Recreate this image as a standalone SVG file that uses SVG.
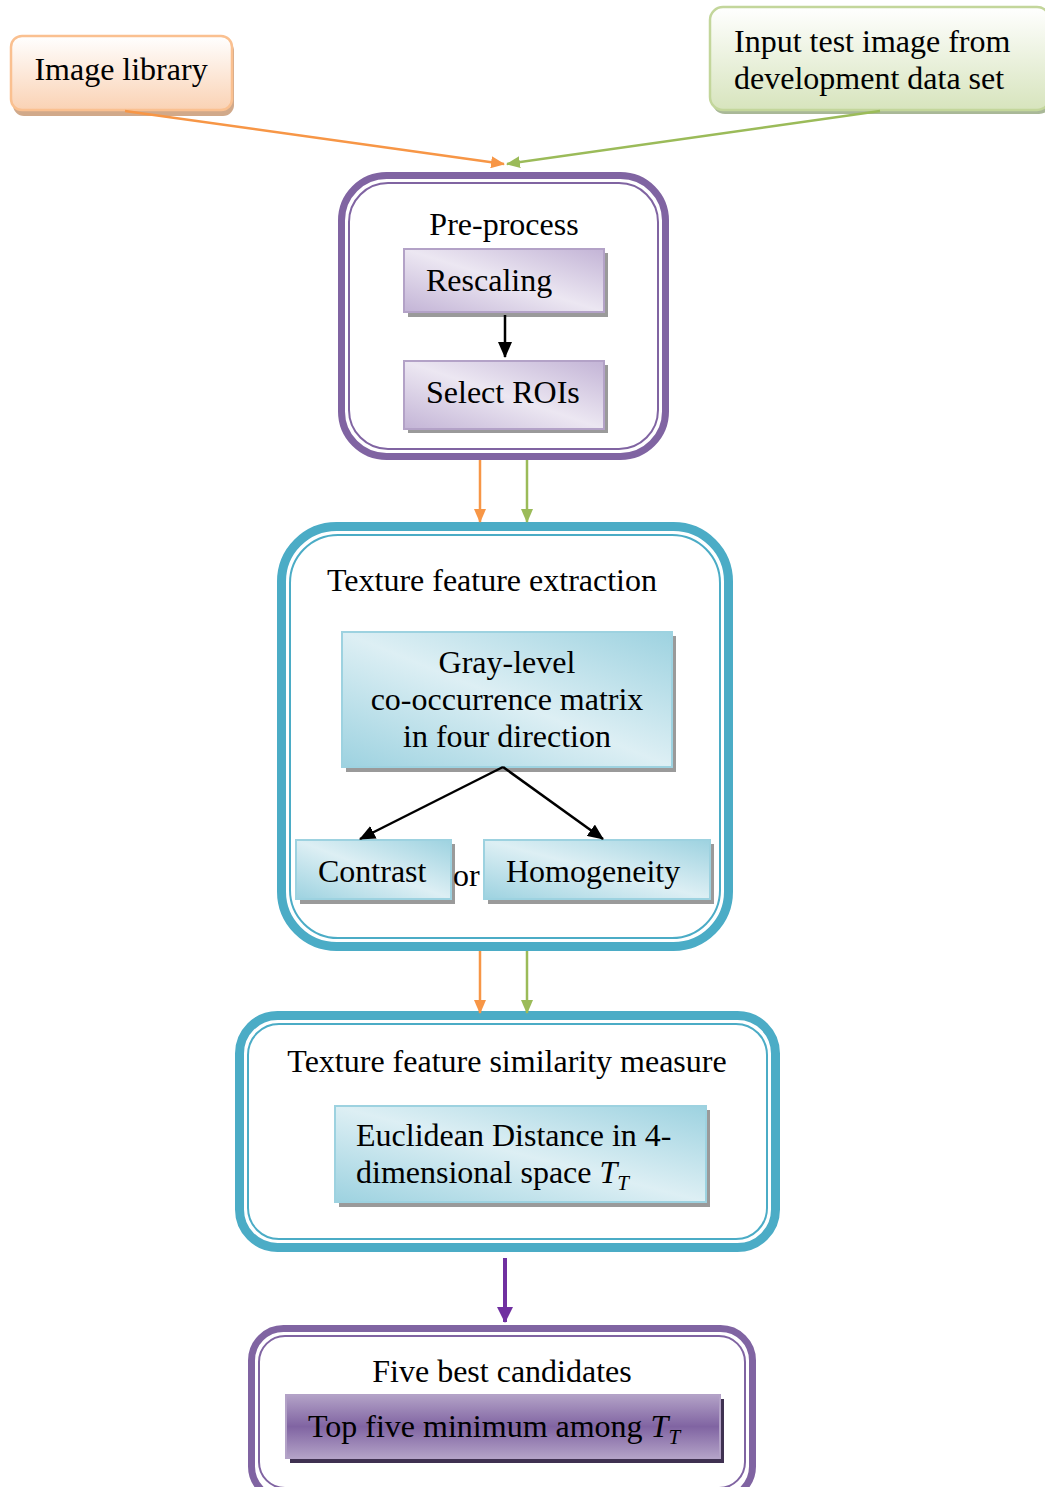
<svg xmlns="http://www.w3.org/2000/svg" width="1045" height="1487" viewBox="0 0 1045 1487">
<defs>
<linearGradient id="gOrange" x1="0" y1="0" x2="0" y2="1"><stop offset="0" stop-color="#FFFFFF"/><stop offset="1" stop-color="#FAD2B4"/></linearGradient>
<linearGradient id="gGreen" x1="0" y1="0" x2="0" y2="1"><stop offset="0" stop-color="#FFFFFF"/><stop offset="1" stop-color="#D7E4BD"/></linearGradient>
<linearGradient id="gLav" x1="0" y1="1" x2="1" y2="0"><stop offset="0" stop-color="#C3B4D6"/><stop offset="0.5" stop-color="#ECE7F2"/><stop offset="1" stop-color="#C3B4D6"/></linearGradient>
<linearGradient id="gBlue" x1="0" y1="1" x2="1" y2="0"><stop offset="0" stop-color="#9DD2E0"/><stop offset="0.5" stop-color="#DDEFF4"/><stop offset="1" stop-color="#9DD2E0"/></linearGradient>
<linearGradient id="gPurp" x1="0" y1="0" x2="0" y2="1"><stop offset="0" stop-color="#B3A2C7"/><stop offset="0.5" stop-color="#8064A2"/><stop offset="1" stop-color="#B3A2C7"/></linearGradient>
<marker id="aOr" markerWidth="14" markerHeight="12" refX="13" refY="6" orient="auto" markerUnits="userSpaceOnUse"><path d="M0,0 L14,6 L0,12 z" fill="#F79646"/></marker>
<marker id="aGr" markerWidth="14" markerHeight="12" refX="13" refY="6" orient="auto" markerUnits="userSpaceOnUse"><path d="M0,0 L14,6 L0,12 z" fill="#9BBB59"/></marker>
<marker id="aBk" markerWidth="16" markerHeight="14" refX="15" refY="7" orient="auto" markerUnits="userSpaceOnUse"><path d="M0,0 L16,7 L0,14 z" fill="#000"/></marker>
<marker id="aPu" markerWidth="16" markerHeight="16" refX="15" refY="8" orient="auto" markerUnits="userSpaceOnUse"><path d="M0,0 L16,8 L0,16 z" fill="#7030A0"/></marker>
</defs>
<style>
text{font-family:"Liberation Serif","Times New Roman",serif;font-size:32px;fill:#000}
.c{text-anchor:middle}
.sh{fill:#9A9A9A}
.lav{fill:url(#gLav);stroke:#B3A2C7;stroke-width:2}
.blue{fill:url(#gBlue);stroke:#9DD2E0;stroke-width:2}
.pur{stroke:#8064A2;fill:none}
.tea{stroke:#4BACC6;fill:none}
</style>
<rect width="1045" height="1487" fill="#fff"/>

<g id="image-library">
<rect x="13" y="40" width="221" height="76" rx="11" fill="#D1A98A"/>
<rect x="11" y="36" width="221" height="74" rx="11" fill="url(#gOrange)" stroke="#FAC090" stroke-width="2.5"/>
<text x="121" y="80" class="c">Image library</text>
</g>

<g id="input-test-image">
<rect x="712" y="11" width="340" height="103" rx="13" fill="#A9B898"/>
<rect x="710" y="7" width="340" height="103" rx="13" fill="url(#gGreen)" stroke="#C3D69B" stroke-width="2.5"/>
<text x="734" y="52">Input test image from</text>
<text x="734" y="89">development data set</text>
</g>

<g id="pre-process">
<rect x="341.5" y="175.5" width="324" height="281" rx="45" class="pur" stroke-width="7"/>
<rect x="349" y="183" width="309" height="266" rx="39" class="pur" stroke-width="2"/>
<text x="504" y="235" class="c">Pre-process</text>
</g>

<g id="rescaling">
<rect x="408" y="253" width="200" height="64" class="sh"/>
<rect x="404" y="249" width="200" height="63" class="lav"/>
<text x="426" y="291">Rescaling</text>
</g>

<g id="select-rois">
<rect x="408" y="365" width="200" height="68" class="sh"/>
<rect x="404" y="361" width="200" height="68" class="lav"/>
<text x="426" y="403">Select ROIs</text>
</g>

<g id="texture-extraction">
<rect x="281.5" y="526.5" width="447" height="420" rx="55" class="tea" stroke-width="9"/>
<rect x="290" y="535" width="430" height="403" rx="48" class="tea" stroke-width="2"/>
<text x="492" y="591" class="c">Texture feature extraction</text>
</g>

<g id="glcm">
<rect x="346" y="636" width="330" height="136" class="sh"/>
<rect x="342" y="632" width="330" height="135" class="blue"/>
<text x="507" y="673" class="c">Gray-level</text>
<text x="507" y="710" class="c">co-occurrence matrix</text>
<text x="507" y="747" class="c">in four direction</text>
</g>

<g id="contrast">
<rect x="300" y="844" width="155" height="60" class="sh"/>
<rect x="296" y="840" width="155" height="59" class="blue"/>
<text x="318" y="882">Contrast</text>
</g>

<text x="453" y="886">or</text>

<g id="homogeneity">
<rect x="488" y="844" width="226" height="60" class="sh"/>
<rect x="484" y="840" width="226" height="59" class="blue"/>
<text x="506" y="882">Homogeneity</text>
</g>

<g id="similarity">
<rect x="239.5" y="1015.5" width="536" height="232" rx="38" class="tea" stroke-width="9"/>
<rect x="248" y="1024" width="519" height="215" rx="31" class="tea" stroke-width="2"/>
<text x="507" y="1072" class="c">Texture feature similarity measure</text>
</g>

<g id="euclidean">
<rect x="339" y="1110" width="371" height="97" class="sh"/>
<rect x="335" y="1106" width="371" height="96" class="blue"/>
<text x="356" y="1146">Euclidean Distance in 4-</text>
<text x="356" y="1183">dimensional space <tspan font-style="italic">T</tspan><tspan font-style="italic" font-size="21" dy="7">T</tspan></text>
</g>

<g id="five-best">
<rect x="251.5" y="1328.5" width="501" height="170" rx="32" class="pur" stroke-width="7"/>
<rect x="259" y="1336" width="486" height="152" rx="26" class="pur" stroke-width="2"/>
<text x="502" y="1382" class="c">Five best candidates</text>
</g>

<g id="top-five">
<rect x="290" y="1399" width="434" height="64" fill="#3F3151"/>
<rect x="286" y="1395" width="434" height="63" fill="url(#gPurp)" stroke="#B3A2C7" stroke-width="2"/>
<text x="308" y="1437">Top five minimum among <tspan font-style="italic">T</tspan><tspan font-style="italic" font-size="21" dy="7">T</tspan></text>
</g>

<g id="connectors" fill="none">
<line x1="125" y1="111" x2="504" y2="164" stroke="#F79646" stroke-width="2.5" marker-end="url(#aOr)"/>
<line x1="880" y1="111" x2="507" y2="164" stroke="#9BBB59" stroke-width="2.5" marker-end="url(#aGr)"/>
<line x1="505" y1="315" x2="505" y2="357" stroke="#000" stroke-width="2.5" marker-end="url(#aBk)"/>
<line x1="480" y1="460" x2="480" y2="522" stroke="#F79646" stroke-width="2.5" marker-end="url(#aOr)"/>
<line x1="527" y1="460" x2="527" y2="522" stroke="#9BBB59" stroke-width="2.5" marker-end="url(#aGr)"/>
<line x1="503" y1="767" x2="360" y2="839" stroke="#000" stroke-width="2.5" marker-end="url(#aBk)"/>
<line x1="503" y1="767" x2="603" y2="839" stroke="#000" stroke-width="2.5" marker-end="url(#aBk)"/>
<line x1="480" y1="951" x2="480" y2="1013" stroke="#F79646" stroke-width="2.5" marker-end="url(#aOr)"/>
<line x1="527" y1="951" x2="527" y2="1013" stroke="#9BBB59" stroke-width="2.5" marker-end="url(#aGr)"/>
<line x1="505" y1="1258" x2="505" y2="1322" stroke="#7030A0" stroke-width="4" marker-end="url(#aPu)"/>
</g>
</svg>
